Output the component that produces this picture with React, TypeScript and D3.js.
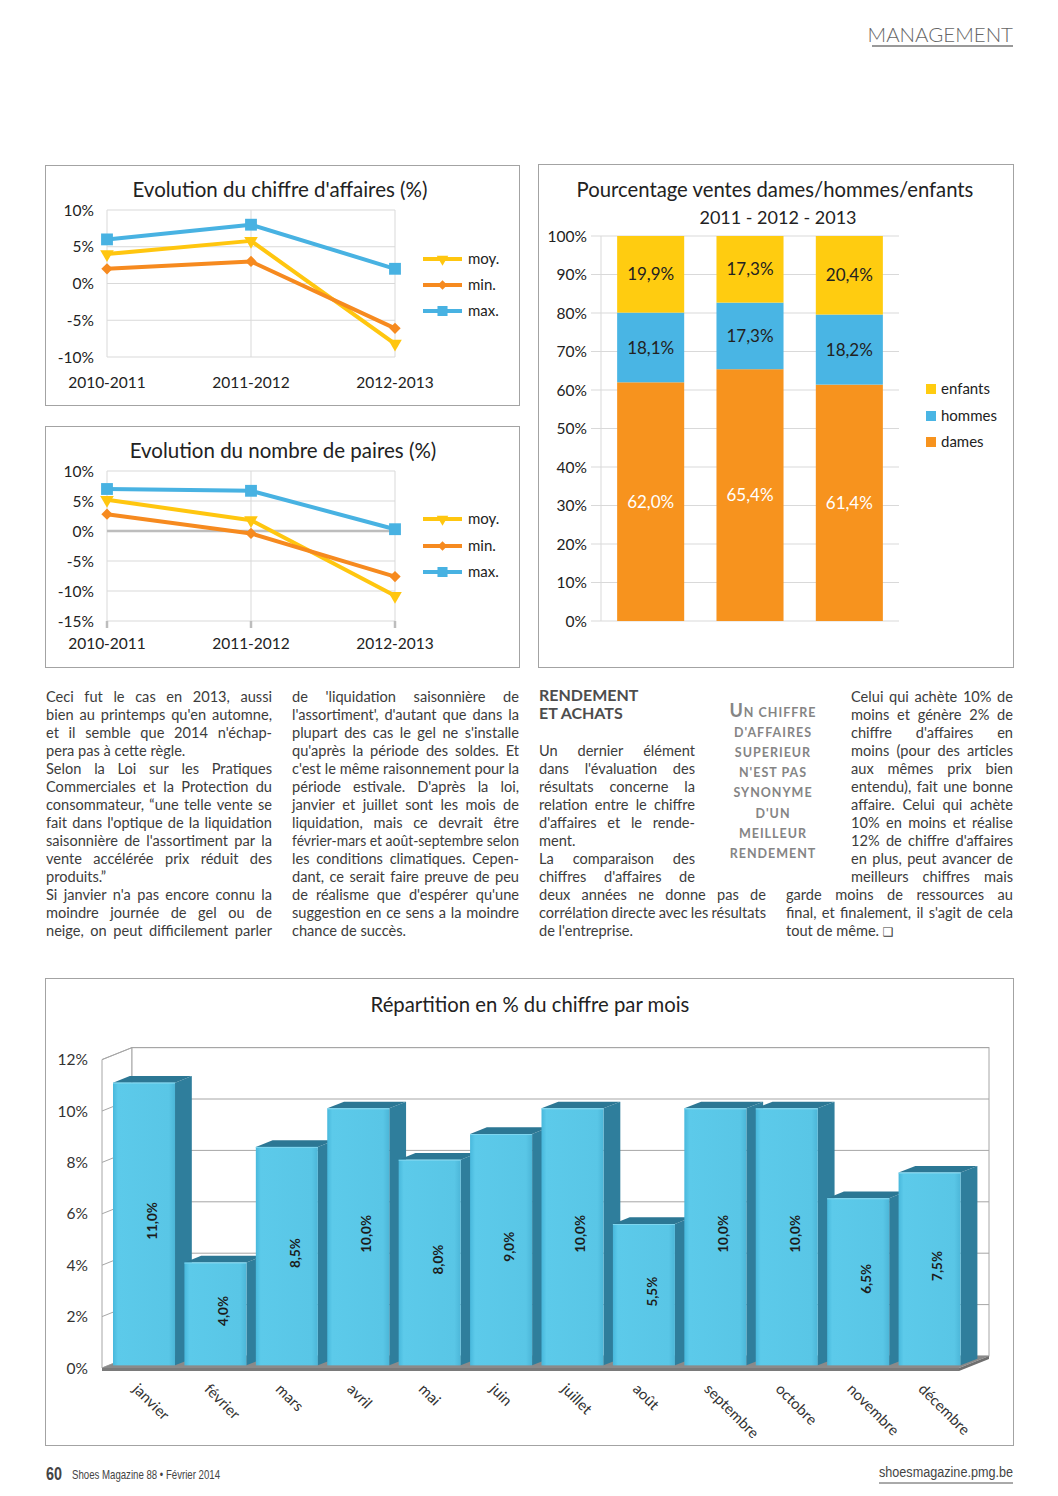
import React from "react";
import * as d3 from "d3";

const FONT = "Lato, 'Noto Sans', sans-serif";
const NARROW = "'Liberation Sans', Arial, sans-serif";
const INK = "#222";
const BODY = "#3c3c3c";
const GRID = "#d9d9d9";
const FRAME = "#a3a3a3";

// line charts
const periods = ["2010-2011", "2011-2012", "2012-2013"];
const caMoy = [4.0, 5.8, -8.2];
const caMin = [2.0, 3.0, -6.1];
const caMax = [6.0, 8.0, 2.0];
const pairesMoy = [5.2, 1.8, -10.8];
const pairesMin = [2.8, -0.4, -7.6];
const pairesMax = [7.0, 6.7, 0.3];
const lineKeys = ["moy.", "min.", "max."];
const lineColors = ["#FFC60F", "#F68A1F", "#48B2E2"];

// stacked bars
const years = ["2011", "2012", "2013"];
const dames = [62.0, 65.4, 61.4];
const hommes = [18.1, 17.3, 18.2];
const enfants = [19.9, 17.3, 20.4];
const stackKeys = ["dames", "hommes", "enfants"];
const stackColors: Record<string, string> = { dames: "#F7931E", hommes: "#49B5E4", enfants: "#FFCC10" };

// months
const months = ["janvier", "février", "mars", "avril", "mai", "juin", "juillet", "août", "septembre", "octobre", "novembre", "décembre"];
const monthShare = [11.0, 4.0, 8.5, 10.0, 8.0, 9.0, 10.0, 5.5, 10.0, 10.0, 6.5, 7.5];

// article text
const col1 = [
  "Ceci fut le cas en 2013, aussi",
  "bien au printemps qu'en automne,",
  "et il semble que 2014 n'échap-",
  "pera pas à cette règle.",
  "Selon la Loi sur les Pratiques",
  "Commerciales et la Protection du",
  "consommateur, “une telle vente se",
  "fait dans l'optique de la liquidation",
  "saisonnière de l'assortiment par la",
  "vente accélérée prix réduit des",
  "produits.”",
  "Si janvier n'a pas encore connu la",
  "moindre journée de gel ou de",
  "neige, on peut difficilement parler",
];
const col2 = [
  "de 'liquidation saisonnière de",
  "l'assortiment', d'autant que dans la",
  "plupart des cas le gel ne s'installe",
  "qu'après la période des soldes. Et",
  "c'est le même raisonnement pour la",
  "période estivale. D'après la loi,",
  "janvier et juillet sont les mois de",
  "liquidation, mais ce devrait être",
  "février-mars et août-septembre selon",
  "les conditions climatiques. Cepen-",
  "dant, ce serait faire preuve de peu",
  "de réalisme que d'espérer qu'une",
  "suggestion en ce sens a la moindre",
  "chance de succès.",
];
const col3 = [
  "Un dernier élément",
  "dans l'évaluation des",
  "résultats concerne la",
  "relation entre le chiffre",
  "d'affaires et le rende-",
  "ment.",
  "La comparaison des",
  "chiffres d'affaires de",
];
const col3Wide = ["deux années ne donne pas de", "corrélation directe avec les résultats", "de l'entreprise."];
const col4 = [
  "Celui qui achète 10% de",
  "moins et génère 2% de",
  "chiffre d'affaires en",
  "moins (pour des articles",
  "aux mêmes prix bien",
  "entendu), fait une bonne",
  "affaire. Celui qui achète",
  "10% en moins et réalise",
  "12% de chiffre d'affaires",
  "en plus, peut avancer de",
  "meilleurs chiffres mais",
];
const col4Wide = ["garde moins de ressources au", "final, et finalement, il s'agit de cela", "tout de même."];
const quoteLines = ["N CHIFFRE", "D'AFFAIRES", "SUPERIEUR", "N'EST PAS", "SYNONYME", "D'UN", "MEILLEUR", "RENDEMENT"];

const fmt = (v: number) => v.toFixed(1).replace(".", ",") + "%";

let ctx: CanvasRenderingContext2D | null = null;
const measure = (s: string, font: string) => {
  if (!ctx) ctx = document.createElement("canvas").getContext("2d");
  ctx!.font = font;
  return ctx!.measureText(s).width;
};

const shapes = [
  { d: d3.symbol(d3.symbolTriangle, 80)()!, rot: 180 },
  { d: d3.symbol(d3.symbolSquare, 64)()!, rot: 45 },
  { d: d3.symbol(d3.symbolSquare, 140)()!, rot: 0 },
];

function LineChart(props: {
  top: number; height: number; title: string; titleX: number; series: number[][];
  domain: [number, number]; yTop: number; yBottom: number; labelY: number; legendY: number[]; zeroAxis?: boolean;
}) {
  const { top, height, title, titleX, series, domain, yTop, yBottom, labelY, legendY, zeroAxis } = props;
  const x = d3.scalePoint<string>().domain(periods).range([107, 395]);
  const y = d3.scaleLinear().domain(domain).range([yBottom, yTop]);
  const ticks = d3.range(domain[0], domain[1] + 1, 5);
  const line = d3.line<number>().x((_, i) => x(periods[i])!).y((d) => y(d));
  return (
    <g>
      <rect x={45.5} y={top + 0.5} width={474} height={height} fill="#fff" stroke={FRAME} />
      <text x={titleX} y={top + 32} textAnchor="middle" fontSize={20.5} fill={INK}>{title}</text>
      {ticks.map((t) => (
        <line key={t} x1={107} x2={395} y1={y(t)} y2={y(t)} stroke={GRID} />
      ))}
      {periods.map((p) => (
        <line key={p} x1={x(p)} x2={x(p)} y1={yTop} y2={yBottom} stroke={GRID} />
      ))}
      {zeroAxis && (
        <g stroke="#bdbdbd" strokeWidth={2.5}>
          <line x1={107} x2={395} y1={y(0)} y2={y(0)} />
          {periods.map((p) => (
            <line key={p} x1={x(p)} x2={x(p)} y1={yBottom} y2={yBottom + 7} />
          ))}
        </g>
      )}
      <g fontSize={15.5} fill={INK}>
        {ticks.map((t) => (
          <text key={t} x={94} y={y(t)} dy="0.36em" textAnchor="end">{`${t}%`}</text>
        ))}
        {periods.map((p) => (
          <text key={p} x={x(p)} y={labelY} textAnchor="middle">{p}</text>
        ))}
      </g>
      {series.map((vals, k) => (
        <g key={k}>
          <path d={line(vals)!} fill="none" stroke={lineColors[k]} strokeWidth={4} strokeLinejoin="round" />
          {vals.map((v, i) => (
            <path key={i} d={shapes[k].d} fill={lineColors[k]}
              transform={`translate(${x(periods[i])},${y(v)}) rotate(${shapes[k].rot})`} />
          ))}
        </g>
      ))}
      {lineKeys.map((name, k) => (
        <g key={name}>
          <line x1={423} x2={462} y1={legendY[k]} y2={legendY[k]} stroke={lineColors[k]} strokeWidth={4} />
          <path d={shapes[k].d} fill={lineColors[k]} transform={`translate(442.5,${legendY[k]}) rotate(${shapes[k].rot}) scale(0.85)`} />
          <text x={468} y={legendY[k]} dy="0.36em" fontSize={15} fill={INK}>{name}</text>
        </g>
      ))}
    </g>
  );
}

function StackedChart() {
  const rows = years.map((yr, i) => ({ year: yr, dames: dames[i], hommes: hommes[i], enfants: enfants[i] }));
  const series = d3.stack<any>().keys(stackKeys)(rows);
  const x = d3.scaleBand<string>().domain(years).range([601, 899]).paddingInner(0.325).paddingOuter(0.1625);
  const y = d3.scaleLinear().domain([0, 100]).range([621, 236]);
  const ticks = d3.range(0, 101, 10);
  const legend = [...stackKeys].reverse();
  return (
    <g>
      <rect x={538.5} y={164.5} width={475} height={503} fill="#fff" stroke={FRAME} />
      <text x={775} y={197} textAnchor="middle" fontSize={20.3} fill={INK}>Pourcentage ventes dames/hommes/enfants</text>
      <text x={778} y={224} textAnchor="middle" fontSize={18} fill={INK}>2011 - 2012 - 2013</text>
      {ticks.map((t) => (
        <line key={t} x1={591} x2={899} y1={y(t)} y2={y(t)} stroke={GRID} />
      ))}
      <line x1={601} x2={601} y1={y(100)} y2={y(0)} stroke={GRID} />
      <g fontSize={15.5} fill={INK}>
        {ticks.map((t) => (
          <text key={t} x={587} y={y(t)} dy="0.36em" textAnchor="end">{`${t}%`}</text>
        ))}
      </g>
      {series.map((s) => (
        <g key={s.key}>
          {s.map((d, i) => (
            <g key={i}>
              <rect x={x(years[i])} width={x.bandwidth()} y={y(d[1])} height={y(d[0]) - y(d[1])} fill={stackColors[s.key]} />
              <text x={x(years[i])! + x.bandwidth() / 2} y={(y(d[0]) + y(d[1])) / 2} dy="0.36em" textAnchor="middle"
                fontSize={17} fill={s.key === "dames" ? "#fff" : INK}>
                {fmt(d[1] - d[0])}
              </text>
            </g>
          ))}
        </g>
      ))}
      {legend.map((k, i) => {
        const ly = [389, 416, 442][i];
        return (
          <g key={k}>
            <rect x={926} y={ly - 5} width={10} height={10} fill={stackColors[k]} />
            <text x={941} y={ly} dy="0.36em" fontSize={15} fill={INK}>{k}</text>
          </g>
        );
      })}
    </g>
  );
}

function MonthChart() {
  const x = d3.scaleBand<string>().domain(months).range([102, 959]);
  const y = d3.scaleLinear().domain([0, 12]).range([1368, 1059.6]);
  const ticks = d3.range(0, 13, 2);
  const DX = 30, DY = -12, t0 = 0.22, t1 = 0.78;
  const dx = DX * (t1 - t0), dy = DY * (t1 - t0);
  const fw = x.bandwidth() - 9.4;
  return (
    <g>
      <defs>
        <linearGradient id="front" x1="0" x2="1" y1="0" y2="0">
          <stop offset="0" stopColor="#48b8dc" />
          <stop offset="0.08" stopColor="#5ccaea" />
          <stop offset="0.9" stopColor="#59c6e6" />
          <stop offset="1" stopColor="#4cb6d8" />
        </linearGradient>
      </defs>
      <rect x={45.5} y={978.5} width={968} height={467} fill="#fff" stroke={FRAME} />
      <text x={530} y={1012} textAnchor="middle" fontSize={20.3} fill={INK}>Répartition en % du chiffre par mois</text>
      {/* walls */}
      <polygon points={`102,${y(0)} 132,${y(0) + DY} 132,${y(12) + DY} 102,${y(12)}`} fill="#fff" stroke="#a6a6a6" />
      <rect x={132} y={y(12) + DY} width={857} height={y(0) - y(12)} fill="#fff" stroke="#a6a6a6" />
      {ticks.map((t) => (
        <g key={t} stroke="#a6a6a6">
          <line x1={132} x2={989} y1={y(t) + DY} y2={y(t) + DY} />
          <line x1={102} x2={132} y1={y(t)} y2={y(t) + DY} />
        </g>
      ))}
      {/* floor */}
      <polygon points={`102,${y(0)} 959,${y(0)} 989,${y(0) + DY} 132,${y(0) + DY}`} fill="#8a8a8a" />
      <polygon points={`102,${y(0)} 959,${y(0)} 959,${y(0) + 3} 102,${y(0) + 3}`} fill="#7a7a7a" />
      <polygon points={`959,${y(0)} 989,${y(0) + DY} 989,${y(0) + DY + 3} 959,${y(0) + 3}`} fill="#6f6f6f" />
      {months.map((m, i) => {
        const fx = x(m)! + 4.4 + DX * t0;
        const base = y(0) + DY * t0;
        const top = y(monthShare[i]) + DY * t0;
        return (
          <g key={m}>
            <polygon points={`${fx + fw},${top} ${fx + fw + dx},${top + dy} ${fx + fw + dx},${base + dy} ${fx + fw},${base}`} fill="#2f7e9c" />
            <polygon points={`${fx},${top} ${fx + fw},${top} ${fx + fw + dx},${top + dy} ${fx + dx},${top + dy}`} fill="#2c7794" />
            <rect x={fx} y={top} width={fw} height={base - top} fill="url(#front)" />
            <line x1={fx} x2={fx + fw} y1={top + 0.5} y2={top + 0.5} stroke="#7fd6ef" />
            <text transform={`translate(${fx + fw / 2 + 8},${(top + base) / 2 - 3}) rotate(-90)`} textAnchor="middle" dy="0.36em"
              fontSize={13.5} fontWeight={700} fill="#1c1c1c">
              {fmt(monthShare[i])}
            </text>
          </g>
        );
      })}
      <g fontSize={15.5} fill="#333">
        {ticks.map((t) => (
          <text key={t} x={88} y={y(t)} dy="0.36em" textAnchor="end">{`${t}%`}</text>
        ))}
      </g>
      <g fontSize={15} fill="#333">
        {months.map((m) => (
          <text key={m} transform={`translate(${x(m)! + 30},1390) rotate(45)`}>{m}</text>
        ))}
      </g>
    </g>
  );
}

const BODY_SIZE = 14.6;
const bodyFont = `${BODY_SIZE}px ${FONT}`;

function Para({ lines, x, width, row0, ends }: { lines: string[]; x: number; width: number; row0: number; ends: number[] }) {
  return (
    <g fontSize={BODY_SIZE} fill={BODY}>
      {lines.map((ln, i) => {
        const yy = 701.5 + 18 * (row0 + i);
        if (ends.includes(i)) return <text key={i} x={x} y={yy}>{ln}</text>;
        const words = ln.split(" ");
        const ws = words.map((w) => measure(w, bodyFont));
        const natural = d3.sum(ws) + (words.length - 1) * 2.5;
        if (natural > width) {
          // squeeze slightly when the line is too long for the column
          return (
            <text key={i} x={x} y={yy} textLength={width} lengthAdjust="spacingAndGlyphs">{ln}</text>
          );
        }
        const gap = (width - d3.sum(ws)) / (words.length - 1);
        let cx = x;
        return (
          <text key={i} y={yy}>
            {words.map((w, j) => {
              const px = cx;
              cx += ws[j] + gap;
              return <tspan key={j} x={px}>{w}</tspan>;
            })}
          </text>
        );
      })}
    </g>
  );
}

export default function App() {
  return (
    <svg width={1058} height={1496} viewBox="0 0 1058 1496" fontFamily={FONT}
      style={{ position: "absolute", left: 0, top: 0, background: "#fff" }}>
      <rect width={1058} height={1496} fill="#fff" />

      <text x={1013} y={42} textAnchor="end" fontSize={20.5} fontWeight={300} fill="#666">MANAGEMENT</text>
      <line x1={872} x2={1013} y1={46} y2={46} stroke="#777" strokeWidth={1.3} />

      <LineChart top={165} height={240} title="Evolution du chiffre d'affaires (%)" titleX={280}
        series={[caMoy, caMin, caMax]} domain={[-10, 10]} yTop={210} yBottom={357} labelY={388} legendY={[259, 285, 311]} />
      <LineChart top={426} height={241} title="Evolution du nombre de paires (%)" titleX={283}
        series={[pairesMoy, pairesMin, pairesMax]} domain={[-15, 10]} yTop={471} yBottom={621} labelY={649}
        legendY={[519, 546, 572]} zeroAxis />
      <StackedChart />

      <Para lines={col1} x={46} width={226} row0={0} ends={[3, 10]} />
      <Para lines={col2} x={292} width={227} row0={0} ends={[13]} />
      <g fontSize={16} fontWeight={700} fill="#4d4d4d">
        <text x={539} y={701}>RENDEMENT</text>
        <text x={539} y={719}>ET ACHATS</text>
      </g>
      <Para lines={col3} x={539} width={156} row0={3} ends={[5]} />
      <Para lines={col3Wide} x={539} width={227} row0={11} ends={[2]} />
      <g fontWeight={700} fontSize={12.5} letterSpacing={1} fill="#858585" textAnchor="middle">
        {quoteLines.map((q, i) => (
          <text key={i} x={773} y={716.5 + 20.2 * i}>
            {i === 0 && <tspan fontSize={18}>U</tspan>}
            {q}
          </text>
        ))}
      </g>
      <Para lines={col4} x={851} width={162} row0={0} ends={[]} />
      <Para lines={col4Wide} x={786} width={227} row0={11} ends={[2]} />
      <text x={786 + measure("tout de même. ", bodyFont)} y={701.5 + 18 * 13} fontSize={12} fontFamily="DejaVu Sans" fill={BODY}>❑</text>

      <MonthChart />

      <g fontFamily={NARROW} fill="#444">
        <text x={46} y={1480} fontSize={19} fontWeight={700} textLength={16} lengthAdjust="spacingAndGlyphs">60</text>
        <text x={72} y={1479} fontSize={13} textLength={148} lengthAdjust="spacingAndGlyphs">Shoes Magazine 88 • Février 2014</text>
        <text x={879} y={1477} fontSize={15.5} textLength={134} lengthAdjust="spacingAndGlyphs">shoesmagazine.pmg.be</text>
        <line x1={879} x2={1013} y1={1483} y2={1483} stroke="#555" strokeWidth={1} />
      </g>
    </svg>
  );
}
